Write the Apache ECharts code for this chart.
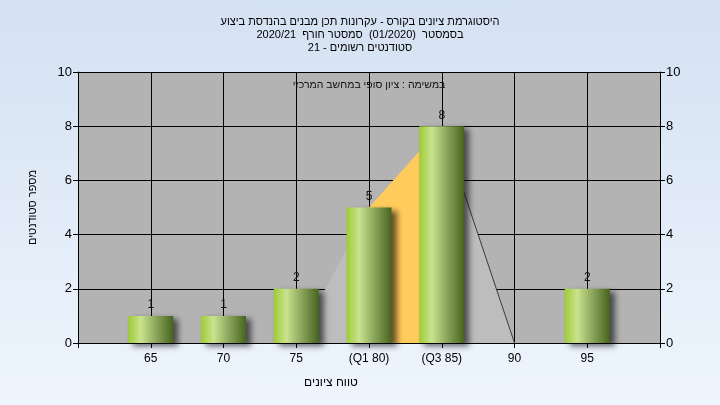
<!DOCTYPE html>
<html>
<head>
<meta charset="utf-8">
<script src="https://cdn.jsdelivr.net/npm/echarts@6/dist/echarts.min.js"></script>
<style>
html,body{margin:0;padding:0;}
body{background:linear-gradient(to bottom,#d4e1f2 0%,#eef5fd 100%);width:720px;height:405px;}
#c{width:720px;height:405px;}
</style>
</head>
<body>
<div id="c"></div>
<script>
const titleLines = [
  'היסטוגרמת ציונים בקורס - עקרונות תכן מבנים בהנדסת ביצוע',
  'בסמסטר  (01/2020)  סמסטר חורף  2020/21',
  'סטודנטים רשומים - 21'
];
const noteText = 'במשימה : ציון סופי במחשב המרכזי';
const xAxisName = 'טווח ציונים';
const yAxisName = 'מספר סטודנטים';
const gradeValues = [65, 70, 75, 80, 85, 90, 95];
const gradeLabels = ['65', '70', '75', '(Q1 80)', '(Q3 85)', '90', '95'];
const studentCounts = [1, 1, 2, 5, 8, 0, 2];
const distX = [75, 80, 85, 90];
const distY = [0, 5, 8, 0];
const iqrX = [80, 85];
const iqrY = [5, 8];
const tailX = [85, 90];
const tailY = [8, 0];

const chart = echarts.init(document.getElementById('c'));
const font = 'Liberation Sans, Arial, sans-serif';
const pairs = (xs, ys) => xs.map((x, i) => [x, ys[i]]);

chart.setOption({
  backgroundColor: 'transparent',
  animation: false,
  textStyle: {fontFamily: font},
  title: {
    text: titleLines.join('\n'),
    left: 'center', top: 10,
    textStyle: {fontSize: 11, fontWeight: 'normal', color: '#000', lineHeight: 13, fontFamily: font}
  },
  grid: {left: 78, right: 60, top: 72, bottom: 62, show: true, backgroundColor: '#b3b3b3', borderWidth: 0},
  graphic: [{
    type: 'text', x: 369, y: 85, z: 10,
    style: {text: noteText, fontSize: 10.5, fill: '#111', fontFamily: font, align: 'center', verticalAlign: 'middle'}
  }],
  xAxis: {
    type: 'value', min: 60, max: 100, interval: 5,
    name: xAxisName, nameLocation: 'middle', nameGap: 34,
    nameTextStyle: {fontSize: 12, color: '#000', padding: [0, 76, 0, 0]},
    axisLine: {show: true, lineStyle: {color: '#000', width: 1}},
    axisTick: {show: true, length: 5, lineStyle: {color: '#000'}},
    axisLabel: {
      fontSize: 12, color: '#000', margin: 10,
      formatter: v => { const i = gradeValues.indexOf(v); return i >= 0 ? gradeLabels[i] : ''; }
    },
    splitLine: {show: true, lineStyle: {color: '#000', width: 1}}
  },
  yAxis: [{
    type: 'value', min: 0, max: 10, interval: 2, position: 'left',
    name: yAxisName, nameLocation: 'middle', nameGap: 40, nameRotate: 90,
    nameTextStyle: {fontSize: 11, color: '#000'},
    axisLine: {show: true, lineStyle: {color: '#000', width: 1}},
    axisTick: {show: true, length: 5, lineStyle: {color: '#000'}},
    axisLabel: {fontSize: 13, color: '#000', margin: 6},
    splitLine: {show: true, lineStyle: {color: '#000', width: 1}}
  }, {
    type: 'value', min: 0, max: 10, interval: 2, position: 'right',
    axisLine: {show: true, lineStyle: {color: '#000', width: 1}},
    axisTick: {show: true, length: 5, lineStyle: {color: '#000'}},
    axisLabel: {fontSize: 13, color: '#000', margin: 6},
    splitLine: {show: false}
  }],
  series: [{
    type: 'line', data: pairs(distX, distY), symbol: 'none', silent: true, z: 2,
    lineStyle: {width: 0, opacity: 0},
    areaStyle: {color: '#bdbdbd', opacity: 1}
  }, {
    type: 'line', data: pairs(iqrX, iqrY), symbol: 'none', silent: true, z: 2,
    lineStyle: {width: 0, opacity: 0},
    areaStyle: {color: '#ffcb5c', opacity: 1}
  }, {
    type: 'line', data: pairs(tailX, tailY), symbol: 'none', silent: true, z: 2,
    lineStyle: {width: 1, color: '#3a3a3a'}
  }, {
    type: 'bar', data: pairs(gradeValues, studentCounts), barWidth: 45, z: 5,
    itemStyle: {
      color: new echarts.graphic.LinearGradient(0, 0, 1, 0, [
        {offset: 0, color: '#9ecb35'},
        {offset: 0.28, color: '#cae38f'},
        {offset: 0.6, color: '#8ea95e'},
        {offset: 1, color: '#48631e'}
      ]),
      shadowColor: 'rgba(0,0,0,0.6)', shadowBlur: 6, shadowOffsetX: 5, shadowOffsetY: 3
    },
    label: {
      show: true, position: 'top', distance: 5, fontSize: 12, color: '#111',
      formatter: p => p.value[1] === 0 ? '' : String(p.value[1])
    }
  }]
});
</script>
</body>
</html>
